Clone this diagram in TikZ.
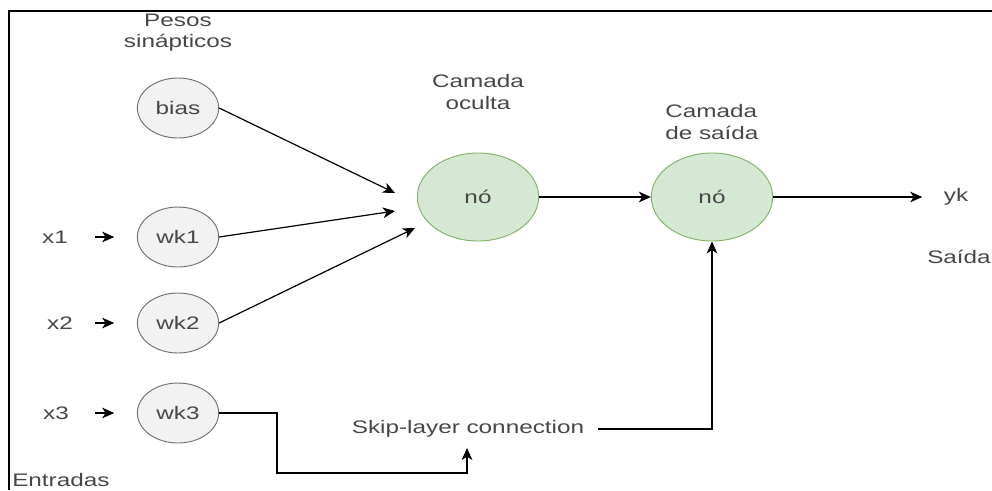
\documentclass[tikz,border=0pt]{standalone}
\usepackage{fontspec}
\setmainfont{Liberation Sans}[FakeStretch=1.34]
\usetikzlibrary{arrows.meta}
\usetikzlibrary{shapes.geometric}
\definecolor{txtgray}{HTML}{474747}
\definecolor{wfill}{HTML}{F2F2F2}
\definecolor{wline}{HTML}{707070}
\definecolor{nfill}{HTML}{D5E8D4}
\definecolor{nline}{HTML}{82B366}

\begin{document}
\begin{tikzpicture}[x=0.75pt, y=-0.75pt,
        every node/.style={text=txtgray, font=\fontsize{13.6pt}{15.8pt}\selectfont},
        txt/.style={inner sep=0pt},
        weight/.style={ellipse, draw=wline, fill=wfill, line width=0.7pt, minimum width=61pt, minimum height=45pt, inner sep=0pt},
        neuron/.style={ellipse, draw=nline, fill=nfill, line width=0.7pt, minimum width=91pt, minimum height=66pt, inner sep=0pt},
        arr/.style={-{Stealth[length=9pt,width=8pt,inset=2.5pt]}, line width=0.9pt, black}]
        \useasboundingbox (0,0) rectangle (992,490);
        \draw[black, line width=1.5pt] (9,490) -- (9,11) -- (992,11);

        % entradas e pesos
        \node[txt, align=center] (pesos) at (178,33) {Pesos\\sinápticos};
        \node[weight] (bias) at (178,108) {bias};
        \node[weight] (wk1) at (178,237) {wk1};
        \node[weight] (wk2) at (178,323) {wk2};
        \node[weight] (wk3) at (178,413) {wk3};

        \node[txt] (x1) at (55,237) {x1};
        \node[txt] (x2) at (60,323) {x2};
        \node[txt] (x3) at (56,413) {x3};
        \node[txt, anchor=west] (entradas) at (12,480) {Entradas};

        \draw[arr, shorten <=20pt, shorten >=17pt] (x1) -- (wk1);
        \draw[arr, shorten <=16.5pt, shorten >=17pt] (x2) -- (wk2);
        \draw[arr, shorten <=19.5pt, shorten >=17pt] (x3) -- (wk3);

        % camadas
        \node[txt, align=center] (oculta) at (478,92) {Camada\\oculta};
        \node[neuron] (hid) at (478,197) {nó};
        \node[txt, align=left, anchor=west] (camsaida) at (665,122) {Camada\\de saída};
        \node[neuron] (out) at (712,197) {nó};
        \node[txt] (yk) at (956,197) {yk};
        \node[txt] (saida) at (959,257) {Saída};

        \coordinate (inb) at (395,193);
        \coordinate (in1) at (395,211);
        \coordinate (in2) at (415,228);
        \draw[arr] (bias.east) -- (inb);
        \draw[arr] (wk1.east) -- (in1);
        \draw[arr] (wk2.east) -- (in2);

        \draw[arr] (hid) -- (out);
        \draw[arr, shorten >=16pt] (out.east) -- (out.east -| yk.west);

        % skip-layer
        \node[txt] (skip) at (468,429) {Skip-layer connection};
        \coordinate (skipin) at (467,448);
        \draw[arr] (wk3.east) -| (277,473) -| (skipin);
        \draw[arr] ([xshift=10.5pt]skip.east) -| (out.south);
\end{tikzpicture}
\end{document}
